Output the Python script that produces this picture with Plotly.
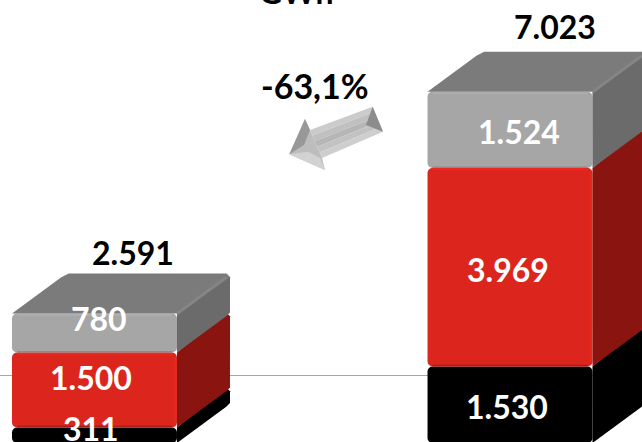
import plotly.graph_objects as go

W, H = 642, 442
categories = [0, 1]
black_values = [311, 1530]
red_values = [1500, 3969]
gray_values = [780, 1524]
totals = ["2.591", "7.023"]
black_labels = ["311", "1.530"]
red_labels = ["1.500", "3.969"]
gray_labels = ["780", "1.524"]
variation = "-63,1%"
unit_title = "GWh"

BAR_W = 0.397
DX = 0.1276
DY = 800
X0 = -0.2274
X1 = 1.3177
Y0, Y1 = 20, 8860
CX = 0.009   # corner cut, x units
CY = 75      # corner cut, y units

def bases(*arrs):
    out = [[0, 0]]
    for a in arrs:
        out.append([b + v for b, v in zip(out[-1], a)])
    return out

b0, b1, b2, tops = bases(black_values, red_values, gray_values)

fig = go.Figure()
FONT = "Lato"

def area(xs, ys, color):
    fig.add_trace(go.Scatter(x=xs, y=ys, mode="lines", fill="toself", fillcolor=color, line=dict(width=0),
                             hoverinfo="skip", showlegend=False))

def edge(xs, ys, color, width=1.5):
    fig.add_trace(go.Scatter(x=xs, y=ys, mode="lines", line=dict(width=width, color=color),
                             hoverinfo="skip", showlegend=False))

def side(i, lo, hi, color):
    xr = categories[i] + BAR_W / 2
    area([xr, xr + DX - CX, xr + DX, xr + DX, xr + DX - CX, xr, xr],
         [lo, lo + DY - CY, lo + DY, hi + DY - CY, hi + DY, hi, lo], color)

def top(i, y, color):
    xl = categories[i] - BAR_W / 2
    xr = categories[i] + BAR_W / 2
    area([xl, xl + DX - CX, xl + DX + CX, xr + DX - CX, xr + DX, xr, xl],
         [y, y + DY - CY, y + DY, y + DY, y + DY - CY, y, y], color)

for i in categories:
    side(i, b0[i], b1[i], "#000000")
    side(i, b1[i], b2[i], "#8A1510")
    side(i, b2[i], tops[i], "#6B6B6B")
    top(i, tops[i], "#7B7B7B")

for base, vals, color, name in [(b0, black_values, "#000000", "black"),
                                (b1, red_values, "#DC251C", "red"),
                                (b2, gray_values, "#A6A6A6", "gray")]:
    fig.add_trace(go.Bar(x=categories, y=vals, base=base, width=BAR_W,
                         marker=dict(color=color, cornerradius=5, line=dict(width=0)),
                         name=name, showlegend=False, hoverinfo="skip"))

EPS = 0.004
for i in categories:
    xl = categories[i] - BAR_W / 2
    xr = categories[i] + BAR_W / 2
    # bevel highlights on the front faces
    edge([xl + 0.012, xr - 0.012], [tops[i] - 30, tops[i] - 30], "#B0B0B0")
    edge([xl + 0.012, xr - 0.012], [b2[i] + 15, b2[i] + 15], "#8C8C8C")
    edge([xl + 0.012, xr - 0.012], [b2[i] - 25, b2[i] - 25], "#EE2A20", 2)
    edge([xr - EPS, xr - EPS], [b1[i] + 90, b2[i] - 90], "#E9281E", 2)
    edge([xl + 0.012, xr - 0.012], [b1[i] + 18, b1[i] + 18], "#A81C15", 1.5)
    # ridge between the top and the side of the gray block
    edge([xr, xr + DX - CX], [tops[i] - 5, tops[i] + DY - CY], "#858585", 3)

def note(x, y, text, color, size, xs=0, ys=0):
    fig.add_annotation(x=x, y=y, text=text, showarrow=False, xshift=xs, yshift=ys,
                       font=dict(family=FONT, size=size, color=color, weight="bold"),
                       xanchor="center", yanchor="middle")

SZ = 32
note(0, tops[0], totals[0], "#000000", SZ, 39, 61)
note(1, tops[1], totals[1], "#000000", SZ, 45.5, 65)

for i, (ys_g, ys_r, ys_b, xs_g, xs_r, xs_b) in enumerate([(14, 12, 7, 5, -3, -3), (-1.5, -2, -2, 9, -2, -3)]):
    note(i, (b2[i] + tops[i]) / 2, gray_labels[i], "#FFFFFF", SZ, xs_g, ys_g)
    note(i, (b1[i] + b2[i]) / 2, red_labels[i], "#FFFFFF", SZ, xs_r, ys_r)
    note(i, (b0[i] + b1[i]) / 2, black_labels[i], "#FFFFFF", SZ, xs_b, ys_b)

def paper(x, y, text, size):
    fig.add_annotation(x=x / W, y=1 - y / H, xref="paper", yref="paper", text=text, showarrow=False,
                       font=dict(family=FONT, size=size, color="#000000", weight="bold"),
                       xanchor="center", yanchor="middle")

paper(315, 86, variation, 34)
paper(296, -9, unit_title, SZ)

def poly(pts, color):
    p = "M " + " L ".join(f"{x / W:.5f},{1 - y / H:.5f}" for x, y in pts) + " Z"
    fig.add_shape(type="path", path=p, xref="paper", yref="paper", fillcolor=color, line=dict(width=0))

T0, T1 = (310, 130), (372.7, 106.7)
B0, B1 = (322, 158), (383, 131.7)
def mix(a, b, t):
    return (a[0] + (b[0] - a[0]) * t, a[1] + (b[1] - a[1]) * t)
strips = [(0, .2, "#CBCBCB"), (.2, .4, "#C0C0C0"), (.4, .6, "#B6B6B6"), (.6, .8, "#C2C2C2"), (.8, 1, "#CECECE")]
for f0, f1, c in strips:
    poly([mix(T0, B0, f0), mix(T1, B1, f0), mix(T1, B1, f1), mix(T0, B0, f1)], c)
poly([(372.7, 106.7), (383, 131.7), (366, 125)], "#8C8C8C")
poly([(305, 119), (310, 130), (322, 158), (325, 170), (289.3, 154.3)], "#BDBDBD")
poly([(305, 119), (289.3, 154.3), (304, 145), (310, 130)], "#989898")
poly([(289.3, 154.3), (325, 170), (320, 157.7), (308, 151.7)], "#D2D2D2")

fig.add_shape(type="line", xref="paper", x0=0, x1=1, yref="y", y0=1350, y1=1350,
              line=dict(color="#A6A6A6", width=1), layer="below")

fig.update_layout(width=W, height=H, margin=dict(l=0, r=0, t=0, b=0), paper_bgcolor="#FFFFFF", plot_bgcolor="#FFFFFF",
                  barmode="overlay", showlegend=False,
                  xaxis=dict(range=[X0, X1], visible=False),
                  yaxis=dict(range=[Y0, Y1], visible=False))

fig.write_html("out.html", config=dict(displayModeBar=False),
               post_script="document.body.style.margin='0';document.body.style.overflow='hidden';")
